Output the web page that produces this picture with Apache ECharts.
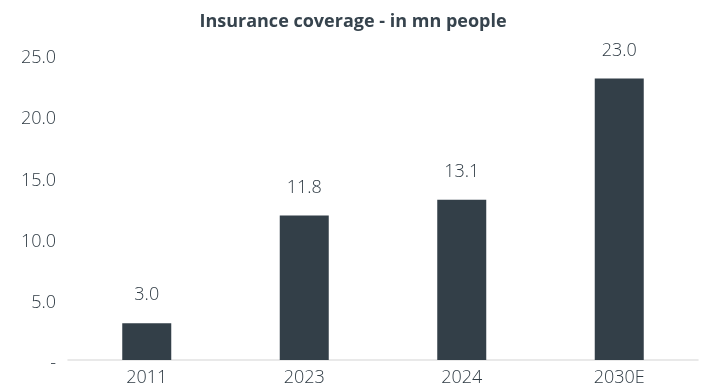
<!DOCTYPE html>
<html>
<head>
<meta charset="utf-8">
<script src="https://cdn.jsdelivr.net/npm/echarts@6/dist/echarts.min.js"></script>
<style>
  html, body { margin: 0; padding: 0; background: #fff; }
  #chart { width: 706px; height: 390px; }
</style>
</head>
<body>
<div id="chart"></div>
<script>
const categories = ["2011", "2023", "2024", "2030E"]
const coverage = [3.0, 11.8, 13.1, 23.0]
const yTicks = [0, 5, 10, 15, 20, 25]

const textColor = "#2f3b44"
const chart = echarts.init(document.getElementById("chart"))

chart.setOption({
  backgroundColor: "#ffffff",
  animation: false,
  title: {
    text: "Insurance coverage - in mn people",
    left: "center",
    top: 8,
    textStyle: {
      fontFamily: "Open Sans",
      fontSize: 18,
      fontWeight: "bold",
      color: "#36434d",
    },
  },
  grid: { left: 68, right: 8, top: 54, bottom: 30 },
  xAxis: {
    type: "category",
    data: categories,
    axisLine: { lineStyle: { color: "#e2e2e2", width: 1.5 } },
    axisTick: { show: false },
    axisLabel: {
      color: textColor,
      fontFamily: "Open Sans",
      fontSize: 18,
      fontWeight: 300,
      margin: 9,
    },
  },
  yAxis: {
    type: "value",
    min: yTicks[0],
    max: yTicks[yTicks.length - 1],
    interval: 5,
    splitLine: { show: false },
    axisLine: { show: false },
    axisTick: { show: false },
    axisLabel: {
      margin: 12,
      formatter: (v) => "{t|" + (v === 0 ? "-" : v.toFixed(1)) + "}",
      rich: {
        t: {
          color: textColor,
          fontFamily: "Open Sans",
          fontSize: 18,
          fontWeight: 300,
          padding: [8, 0, 0, 0],
        },
      },
    },
  },
  series: [
    {
      type: "bar",
      data: coverage,
      barWidth: 49,
      itemStyle: { color: "#333f48" },
      label: {
        show: true,
        position: "top",
        distance: 19,
        color: textColor,
        fontFamily: "Open Sans",
        fontSize: 18,
        fontWeight: 300,
        formatter: (p) => p.value.toFixed(1),
      },
    },
  ],
})
</script>
</body>
</html>
